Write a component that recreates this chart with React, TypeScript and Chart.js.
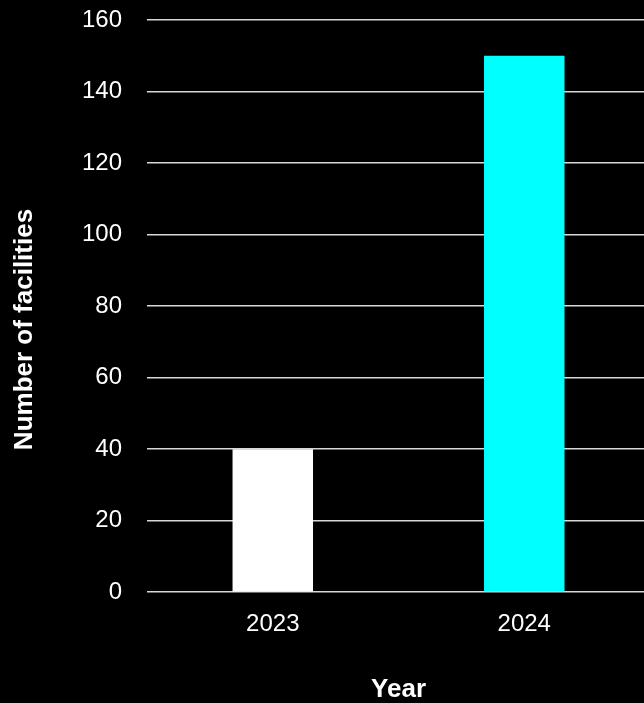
import React, { useEffect, useRef } from "react";
import { Chart, registerables } from "chart.js";

Chart.register(...registerables);

const categories = ["2023", "2024"];
const facilities = [40, 150];
const barColors = ["#ffffff", "#00ffff"];
const yTicks = [0, 20, 40, 60, 80, 100, 120, 140, 160];
const yTitle = "Number of facilities";
const xTitle = "Year";

export default function App() {
  const ref = useRef<HTMLCanvasElement>(null);
  useEffect(() => {
    if (!ref.current) return;
    const font = "'Liberation Sans', Arial, sans-serif";
    const xTickPad = 18;
    const tickSize = 24;
    const yTitlePlugin = {
      id: "yTitlePlugin",
      afterDraw(c: any) {
        const ctx = c.ctx;
        const ys = c.scales.y;
        const area = c.chartArea;
        const labelBottom = area.bottom + xTickPad + tickSize * 1.2;
        const cy = (area.top + labelBottom) / 2;
        const cx = ys.left + 13;
        ctx.save();
        ctx.translate(cx, cy);
        ctx.rotate(-Math.PI / 2);
        ctx.fillStyle = "#ffffff";
        ctx.font = `bold 26px ${font}`;
        ctx.textAlign = "center";
        ctx.textBaseline = "middle";
        ctx.fillText(yTitle, 0, 0);
        ctx.restore();
      },
    };
    const chart = new Chart(ref.current, {
      type: "bar",
      data: {
        labels: categories,
        datasets: [
          {
            data: facilities,
            backgroundColor: barColors,
            borderWidth: 0,
            barPercentage: 0.32,
            categoryPercentage: 1,
          },
        ],
      },
      options: {
        animation: false,
        responsive: false,
        maintainAspectRatio: false,
        layout: { padding: { left: 12, top: 0, right: 0, bottom: 0 } },
        plugins: { legend: { display: false }, tooltip: { enabled: false } },
        scales: {
          x: {
            grid: { display: false, drawTicks: false },
            border: { display: false },
            ticks: { color: "#ffffff", padding: xTickPad, font: { family: font, size: tickSize } },
            title: {
              display: true,
              text: xTitle,
              color: "#ffffff",
              padding: { top: 20, bottom: 0 },
              font: { family: font, size: 26, weight: "bold", lineHeight: 1 },
            },
          },
          y: {
            min: 0,
            max: 160,
            afterBuildTicks: (s: any) => {
              s.ticks = yTicks.map((v) => ({ value: v }));
            },
            afterFit: (s: any) => {
              s.paddingTop = 20;
            },
            grid: { color: "#d8d8d8", lineWidth: 1.5, drawTicks: false },
            border: { display: false },
            ticks: { color: "#ffffff", padding: 25, font: { family: font, size: tickSize } },
            title: {
              display: true,
              text: yTitle,
              color: "rgba(0,0,0,0)",
              padding: { top: 0, bottom: 19 },
              font: { family: font, size: 26, weight: "bold", lineHeight: 1 },
            },
          },
        },
      },
      plugins: [yTitlePlugin],
    });
    return () => chart.destroy();
  }, []);
  return (
    <div
      style={{
        position: "fixed",
        left: 0,
        top: 0,
        width: 644,
        height: 703,
        overflow: "hidden",
        background: "#000000",
      }}
    >
      <canvas ref={ref} width={650} height={703} style={{ display: "block" }} />
    </div>
  );
}
